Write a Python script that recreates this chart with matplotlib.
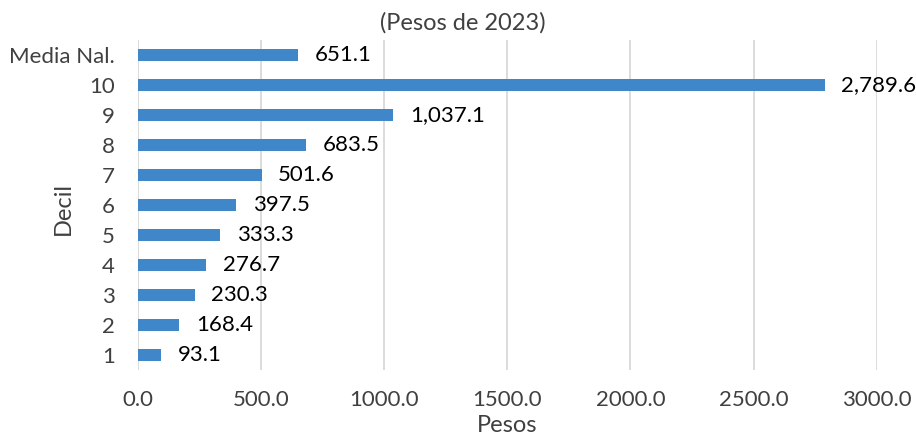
import matplotlib.pyplot as plt

# Data
categorias = ['1', '2', '3', '4', '5', '6', '7', '8', '9', '10', 'Media Nal.']
valores = [93.1, 168.4, 230.3, 276.7, 333.3, 397.5, 501.6, 683.5, 1037.1, 2789.6, 651.1]
xticks = [0, 500, 1000, 1500, 2000, 2500, 3000]

plt.rcParams['font.family'] = ['Lato', 'DejaVu Sans']
texto = '#404040'

fig = plt.figure(figsize=(9.16, 4.36), dpi=100)
ax = fig.add_axes([0.1507, 0.151, 0.8063, 0.757])

pos = range(len(categorias))
bars = ax.barh(pos, valores, height=0.4, color='#3F87C8', zorder=3)
ax.bar_label(bars, labels=[f'{v:,.1f}' for v in valores], padding=12,
             fontsize=16, color='black')

ax.set_ylim(-0.5, len(categorias) - 0.5)
ax.set_xlim(0, 3000)
ax.set_yticks(list(pos))
ax.set_yticklabels(categorias, fontsize=16, color=texto)
ax.set_xticks(xticks)
ax.set_xticklabels([f'{t:.1f}' for t in xticks], fontsize=16, color=texto)
ax.tick_params(length=0)
ax.tick_params(axis='x', pad=14)
ax.tick_params(axis='y', pad=16.5)

ax.grid(axis='x', color='#D9D9D9', linewidth=1.3, zorder=0)
for s in ax.spines.values():
    s.set_visible(False)

ax.set_xlabel('Pesos', fontsize=17, color=texto, labelpad=4)
ax.set_ylabel('Decil', fontsize=17, color=texto)
ax.yaxis.set_label_coords(-0.087, 0.49)
fig.text(0.505, 0.947, '(Pesos de 2023)', ha='center', va='center',
         fontsize=17, color=texto)

fig.savefig('out.png', dpi=100)
